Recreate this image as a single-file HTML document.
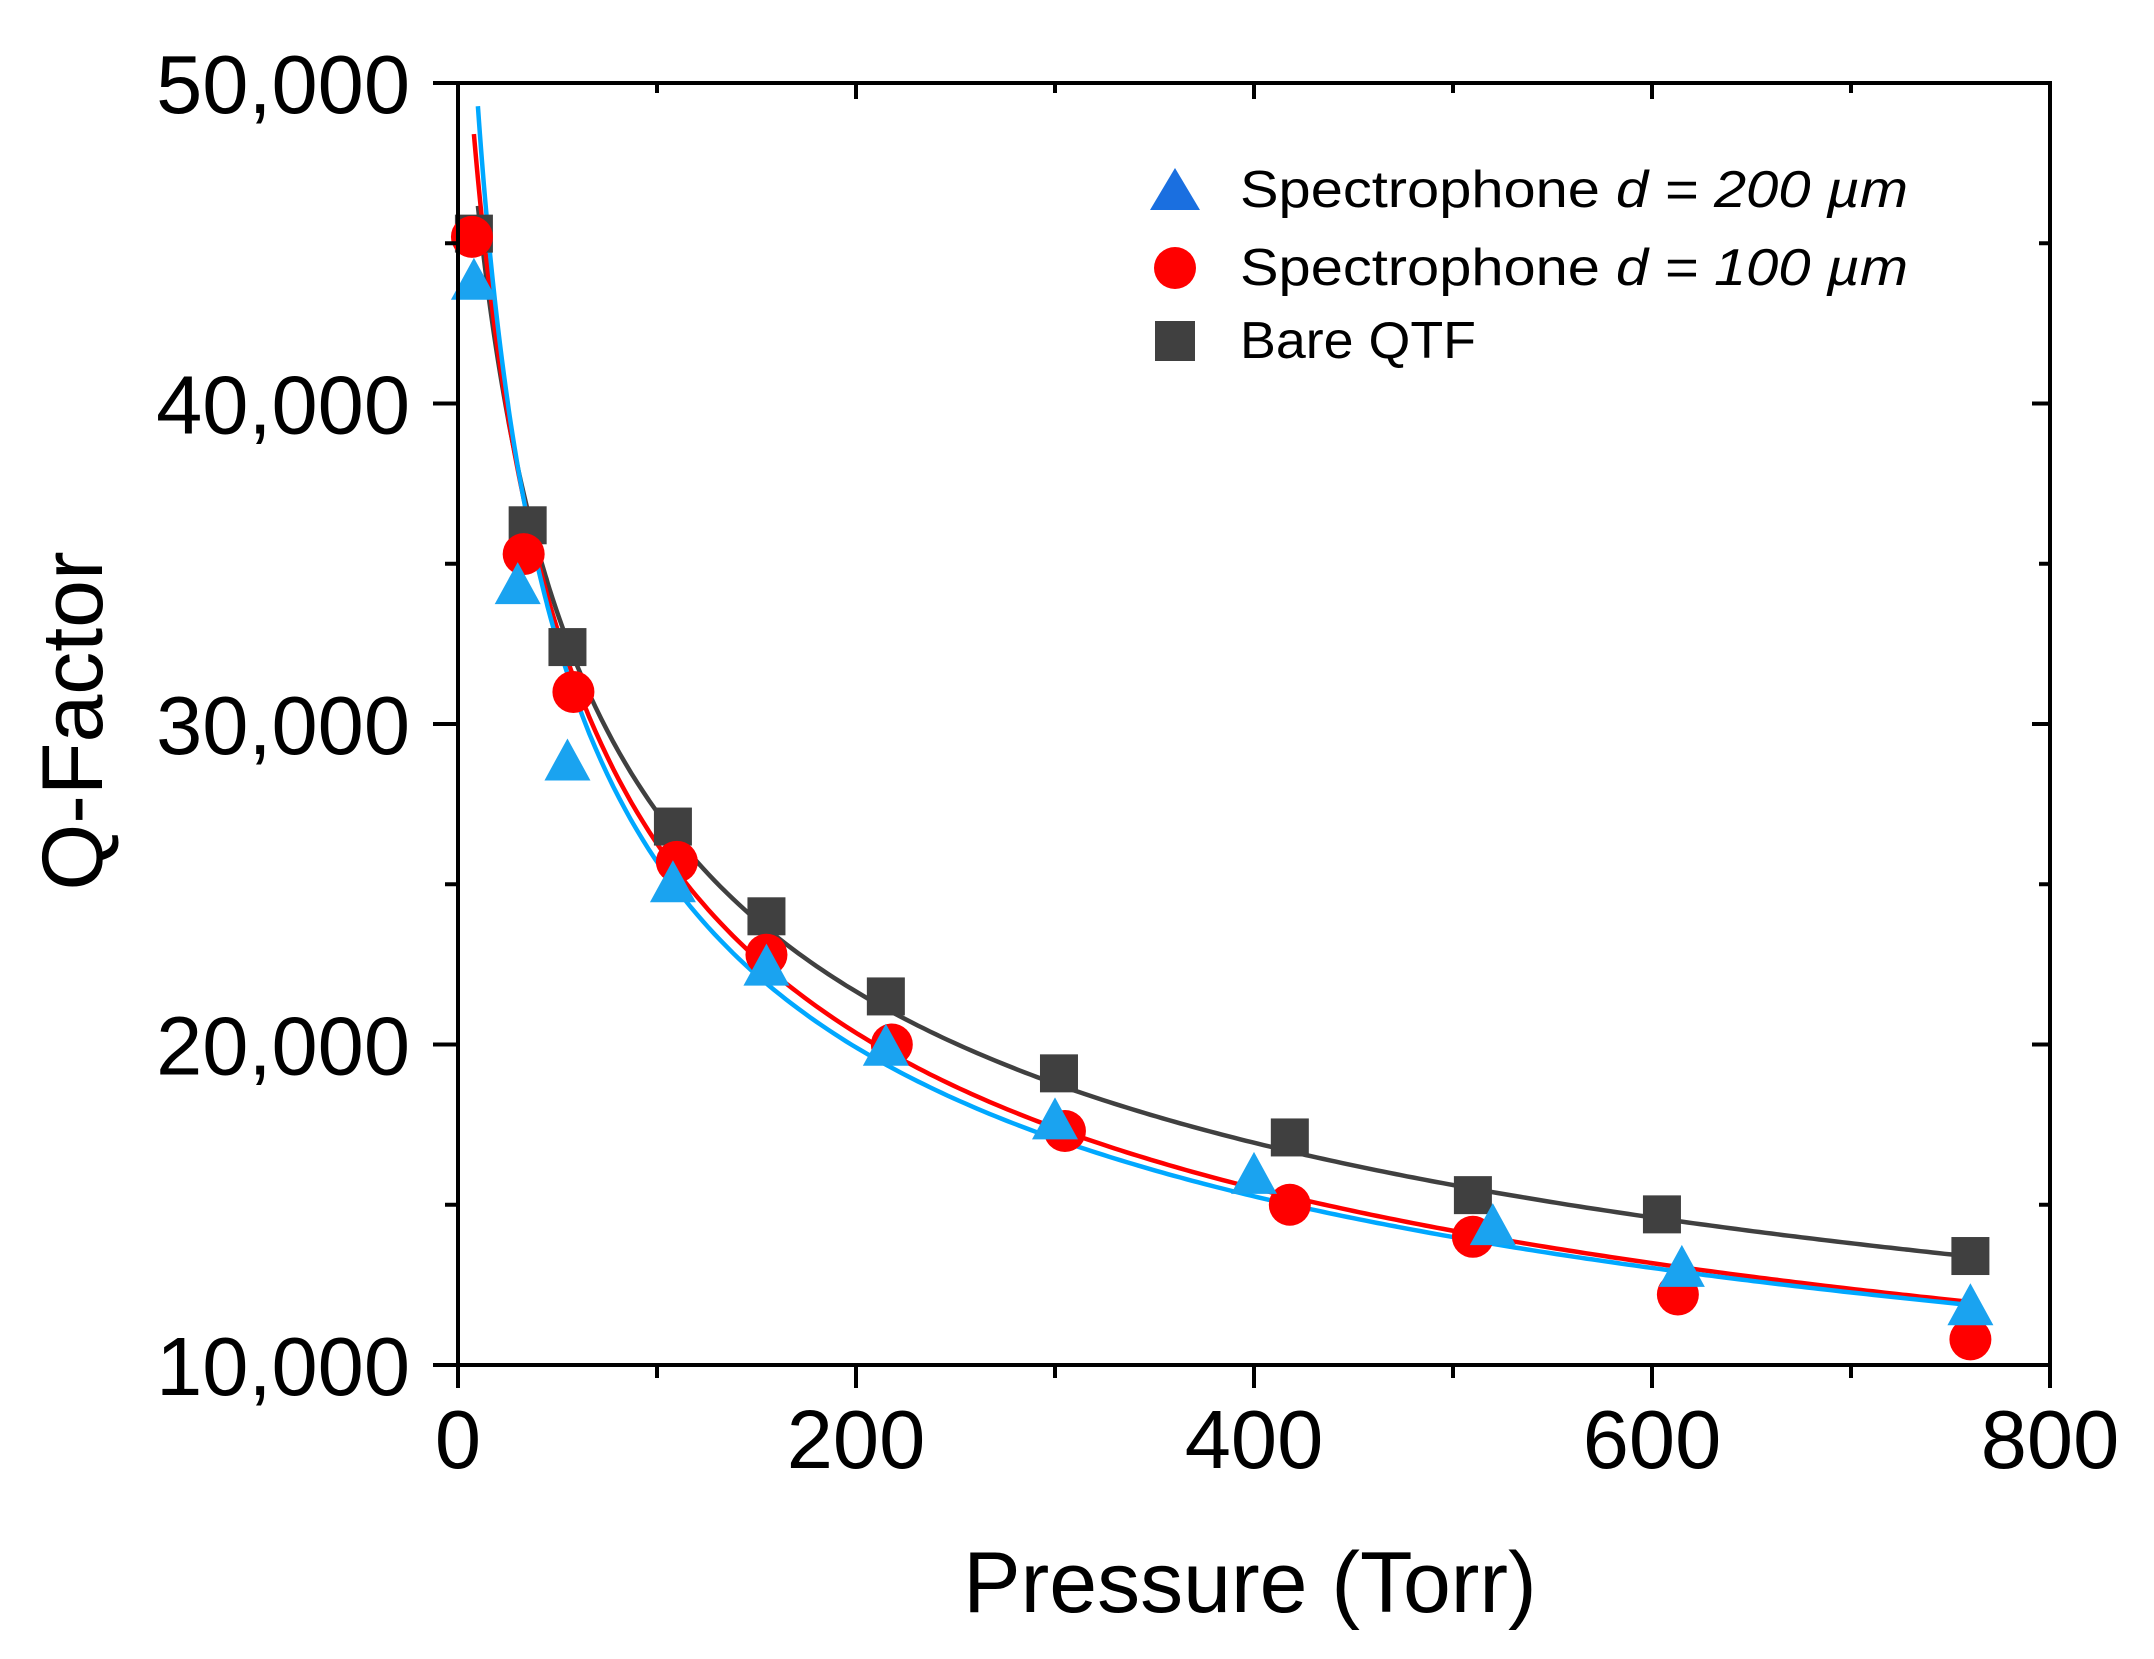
<!DOCTYPE html>
<html><head><meta charset="utf-8"><style>
html,body{margin:0;padding:0;background:#fff}
svg{display:block}
</style></head><body>
<svg id="s" width="2154" height="1659" viewBox="0 0 2154 1659" xmlns="http://www.w3.org/2000/svg" font-family="Liberation Sans, Arial, sans-serif">
<rect width="2154" height="1659" fill="#fff"/>
<g id="g"></g>
</svg>
<script>
const L=458,R=2050,T=83,B=1365;
const X=p=>L+p/800*(R-L), Y=q=>B-(q-10000)/40000*(B-T);
let h='';
function curve(f,p0,col,w){let pts=[];for(let p=p0;p<=760;p+=p<60?0.5:3){pts.push(X(p).toFixed(1)+','+Y(f(p)).toFixed(1));}
 return `<polyline points="${pts.join(' ')}" fill="none" stroke="${col}" stroke-width="${w}"/>`;}
const fb=p=>25000*Math.pow((108+12)/(p+12),0.40);
const fr=p=>25400*Math.pow((110+20)/(p+20),0.42);
const fk=p=>26600*Math.pow((108+20)/(p+20),0.38);
const sq=[[8,45300],[35,36200],[55,32400],[108,26800],[155,24000],[215,21500],[302,19100],[418,17100],[510,15300],[605,14700],[760,13400]];
const ci=[[7,45200],[33,35300],[58,31000],[110,25700],[155,22800],[218,20000],[305,17300],[418,15000],[510,14000],[613,12200],[760,10800]];
const tr=[[8,43800],[30,34300],[55,28800],[108,25000],[155,22400],[215,19900],[300,17600],[400,15900],[520,14300],[615,13000],[760,11800]];
h+=curve(fk,10,'#404040',4.5)+curve(fr,8,'#ff0000',4.5)+curve(fb,10,'#00a8ff',4.5);
for(const [p,q] of sq){h+=`<rect x="${X(p)-19}" y="${Y(q)-19}" width="38" height="38" fill="#404040"/>`;}
for(const [p,q] of ci){h+=`<circle cx="${X(p)}" cy="${Y(q)}" r="21" fill="#ff0000"/>`;}
for(const [p,q] of tr){const x=X(p),y=Y(q);h+=`<polygon points="${x},${y-24} ${x+23},${y+18} ${x-23},${y+18}" fill="#1aa3f0"/>`;}
h+=`<rect x="${L}" y="${T}" width="${R-L}" height="${B-T}" fill="none" stroke="#000" stroke-width="4"/>`;
for(let v=0;v<=800;v+=100){const x=X(v),maj=v%200==0;
 h+=`<line x1="${x}" y1="${B}" x2="${x}" y2="${B+(maj?23:13)}" stroke="#000" stroke-width="4"/>`;
 h+=`<line x1="${x}" y1="${T}" x2="${x}" y2="${T+(maj?16:10)}" stroke="#000" stroke-width="4"/>`;
 if(maj)h+=`<text x="${x}" y="1468" font-size="83" text-anchor="middle">${v}</text>`;}
for(let v=10000;v<=50000;v+=5000){const y=Y(v),maj=v%10000==0;
 h+=`<line x1="${L}" y1="${y}" x2="${L-(maj?25:13)}" y2="${y}" stroke="#000" stroke-width="4"/>`;
 h+=`<line x1="${R}" y1="${y}" x2="${R-(maj?18:11)}" y2="${y}" stroke="#000" stroke-width="4"/>`;
 if(maj)h+=`<text x="410" y="${y+30}" font-size="83" text-anchor="end">${(v/1000)+',000'}</text>`;}
h+=`<text x="1250" y="1612" font-size="86" text-anchor="middle">Pressure (Torr)</text>`;
h+=`<text transform="translate(102,721) rotate(-90)" font-size="86" text-anchor="middle">Q-Factor</text>`;
h+=`<polygon points="1175,168 1200,210 1150,210" fill="#1a6fe0"/>`;
h+=`<circle cx="1175" cy="268" r="21" fill="#ff0000"/>`;
h+=`<rect x="1155" y="321" width="40" height="40" fill="#404040"/>`;
h+=`<text x="1240" y="207" font-size="52" textLength="668" lengthAdjust="spacingAndGlyphs">Spectrophone <tspan font-style="italic">d = 200 µm</tspan></text>`;
h+=`<text x="1240" y="285" font-size="52" textLength="668" lengthAdjust="spacingAndGlyphs">Spectrophone <tspan font-style="italic">d = 100 µm</tspan></text>`;
h+=`<text x="1240" y="358" font-size="52" textLength="236" lengthAdjust="spacingAndGlyphs">Bare QTF</text>`;
document.getElementById('g').innerHTML=h;
</script>
</body></html>
